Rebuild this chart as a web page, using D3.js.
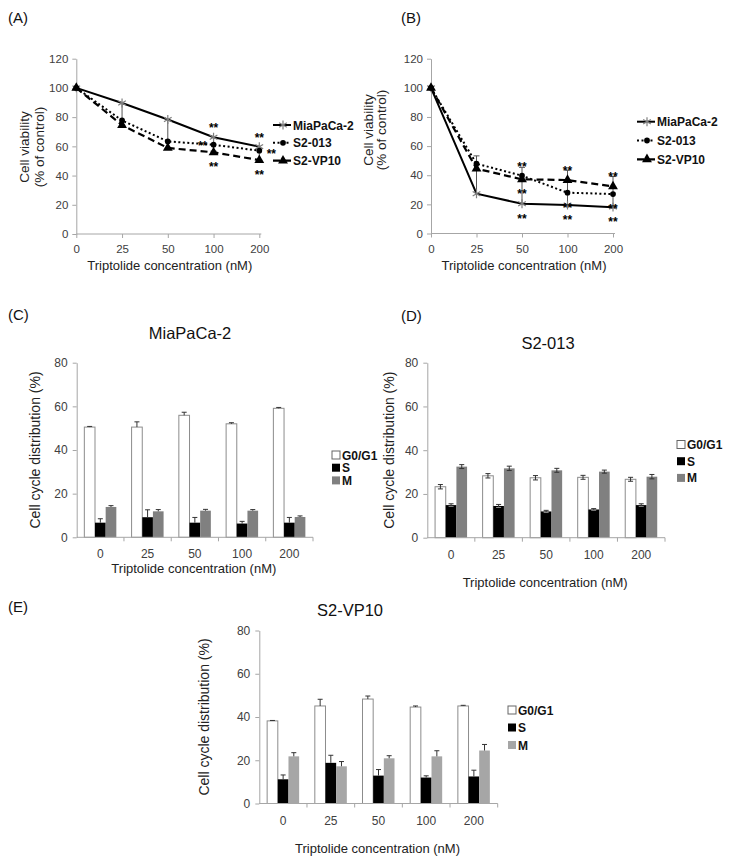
<!DOCTYPE html>
<html><head><meta charset="utf-8">
<script src="https://cdn.jsdelivr.net/npm/d3@7"></script>
<style>
body{margin:0;background:#fff}
svg{display:block}
text{font-family:"Liberation Sans",Arial,Helvetica,sans-serif}
</style>
</head><body>
<svg id="chart" width="729" height="865"></svg>
<script>
// ---------------- DATA ----------------
const concentrations = ["0", "25", "50", "100", "200"];
const lineSeries = ["MiaPaCa-2", "S2-013", "S2-VP10"];
const viabilityTicks = [0, 20, 40, 60, 80, 100, 120];

const viabilityA_MiaPaCa = [100, 89.7, 78.4, 66.2, 59.8];
const viabilityA_S2013   = [100, 77.7, 63.4, 61.1, 57.0];
const viabilityA_S2VP10  = [100, 74.5, 58.9, 55.9, 50.6];
const errorA_MiaPaCa     = [0, 15, 15, 9.5, 10];      // minus bars

const viabilityB_MiaPaCa = [100, 27.3, 20.4, 19.5, 18.1];
const viabilityB_S2013   = [100, 47.9, 39.7, 28.0, 27.1];
const viabilityB_S2VP10  = [100, 44.5, 37.2, 36.7, 32.3];
const errorB_MiaPaCa     = [0, 26, 25, 24, 21];       // plus bars

// significance marks: series index, concentration index, side
const signifA = [[0,3,"above"],[1,3,"left"],[2,3,"below"],[0,4,"above"],[1,4,"right"],[2,4,"below"]];
const signifB = [[1,2,"above"],[2,2,"below"],[0,2,"below"],
                 [2,3,"above"],[1,3,"below"],[0,3,"below"],
                 [2,4,"above"],[1,4,"below"],[0,4,"below"]];

const phases = ["G0/G1", "S", "M"];
const cycleTicks = [0, 20, 40, 60, 80];

const cycleC_G0G1 = [50.5, 50.5, 55.9, 52.0, 59.1];
const cycleC_S    = [6.7, 9.2, 6.7, 6.3, 6.7];
const cycleC_M    = [13.9, 11.9, 12.2, 12.2, 9.3];
const errC_G0G1   = [0.3, 2.4, 1.4, 0.5, 0.4];
const errC_S      = [1.8, 3.4, 2.4, 1.0, 2.4];
const errC_M      = [0.6, 0.8, 0.6, 0.5, 0.5];

const cycleD_G0G1 = [23.3, 28.3, 27.4, 27.6, 26.7];
const cycleD_S    = [14.9, 14.5, 12.0, 12.9, 14.9];
const cycleD_M    = [32.5, 31.7, 30.8, 30.2, 27.9];
const errD_G0G1   = [1.0, 1.0, 1.0, 0.9, 0.9];
const errD_S      = [0.6, 0.7, 0.5, 0.4, 0.6];
const errD_M      = [0.9, 1.0, 0.9, 0.7, 1.0];

const cycleE_G0G1 = [38.2, 45.1, 48.3, 44.6, 45.1];
const cycleE_S    = [11.2, 18.8, 12.9, 12.0, 12.5];
const cycleE_M    = [21.8, 17.2, 20.9, 21.8, 24.5];
const errE_G0G1   = [0.2, 3.1, 1.4, 0.5, 0.3];
const errE_S      = [2.0, 3.5, 2.8, 0.8, 2.9];
const errE_M      = [1.7, 2.2, 1.2, 2.6, 2.8];

// ---------------- DRAW ----------------
const svg = d3.select("#chart");
const AXIS = "#a6a6a6", TICKTXT = "#404040";

function panelLetter(t, x, y) {
  svg.append("text").attr("x", x).attr("y", y).attr("font-size", 15).attr("fill", "#111").text(t);
}

function styleAxis(g) {
  g.selectAll("path.domain").attr("stroke", AXIS).attr("stroke-width", 1);
  g.selectAll(".tick line").attr("stroke", AXIS);
  g.selectAll(".tick text").attr("fill", TICKTXT).attr("font-size", 11.5)
    .attr("font-family", "'Liberation Sans',Arial,sans-serif");
}

const seriesStyle = [
  {dash: null, width: 2, sym: d3.symbolAsterisk, symSize: 55, fill: "none", stroke: "#808080"},
  {dash: "2,2.5", width: 2, sym: d3.symbolCircle, symSize: 26, fill: "#000", stroke: "none"},
  {dash: "7,4", width: 2.2, sym: d3.symbolTriangle, symSize: 42, fill: "#000", stroke: "none"}
];

function linePanel(cfg) {
  const x = d3.scalePoint().domain(concentrations).range(cfg.xr);
  const y = d3.scaleLinear().domain([0, 120]).range(cfg.yr);
  const g = svg.append("g");
  const gx = g.append("g").attr("transform", `translate(0,${cfg.yr[0]})`)
    .call(d3.axisBottom(x).tickSize(4).tickSizeOuter(0).tickPadding(7));
  styleAxis(gx);
  gx.select("path.domain").attr("d", `M${cfg.xr[0]},0H${cfg.xr[1] + 2}`);
  const gy = g.append("g").attr("transform", `translate(${cfg.xr[0]},0)`)
    .call(d3.axisLeft(y).tickValues(viabilityTicks).tickSize(4).tickSizeOuter(0).tickPadding(4));
  styleAxis(gy);

  // error bars
  const eb = g.append("g").attr("stroke", "#555").attr("stroke-width", 1);
  concentrations.forEach((c, i) => {
    const e = cfg.err[i];
    if (!e) return;
    const v = cfg.data[0][i];
    const v2 = cfg.errDir > 0 ? v + e : v - e;
    eb.append("line").attr("x1", x(c)).attr("x2", x(c)).attr("y1", y(v)).attr("y2", y(v2));
    eb.append("line").attr("x1", x(c) - 3).attr("x2", x(c) + 3).attr("y1", y(v2)).attr("y2", y(v2));
  });

  cfg.data.forEach((vals, s) => {
    const st = seriesStyle[s];
    const pts = vals.map((v, i) => [x(concentrations[i]), y(v)]);
    g.append("path").attr("d", d3.line()(pts)).attr("fill", "none")
      .attr("stroke", "#000").attr("stroke-width", st.width)
      .attr("stroke-dasharray", st.dash);
    pts.forEach(p => {
      g.append("path").attr("d", d3.symbol(st.sym, st.symSize)())
        .attr("transform", `translate(${p[0]},${p[1]})`)
        .attr("fill", st.fill).attr("stroke", st.stroke).attr("stroke-width", 1.2);
    });
  });

  // significance
  const off = {above: [0, -12], below: [0, 12], left: [-11, -2], right: [12, 0]};
  cfg.signif.forEach(([s, i, side]) => {
    const v = cfg.data[s][i];
    const o = off[side];
    g.append("text").attr("x", x(concentrations[i]) + o[0])
      .attr("y", y(v) + o[1] + 7).attr("text-anchor", "middle")
      .attr("font-size", 12).attr("font-weight", "bold").text("**");
  });

  // axis titles
  g.append("text").attr("x", (cfg.xr[0] + cfg.xr[1]) / 2 + 2).attr("y", cfg.yr[0] + 36)
    .attr("text-anchor", "middle").attr("font-size", 13).attr("fill", "#222")
    .text("Triptolide concentration (nM)");
  const yl = g.append("text").attr("transform", `translate(${cfg.ylx},${cfg.yly}) rotate(-90)`)
    .attr("text-anchor", "middle").attr("font-size", 13.5).attr("fill", "#222");
  yl.append("tspan").attr("x", 0).attr("dy", 0).text("Cell viability");
  yl.append("tspan").attr("x", 0).attr("dy", cfg.ylStep).text("(% of control)");

  // legend
  lineSeries.forEach((name, s) => {
    const st = seriesStyle[s];
    const ly = cfg.leg[1] + s * cfg.legStep;
    const lx = cfg.leg[0];
    g.append("line").attr("x1", lx).attr("x2", lx + 18).attr("y1", ly).attr("y2", ly)
      .attr("stroke", "#000").attr("stroke-width", st.width).attr("stroke-dasharray", st.dash);
    g.append("path").attr("d", d3.symbol(st.sym, st.symSize)())
      .attr("transform", `translate(${lx + 10},${ly})`)
      .attr("fill", st.fill).attr("stroke", st.stroke).attr("stroke-width", 1.2);
    g.append("text").attr("x", lx + 20).attr("y", ly + 4.5).attr("font-size", 12)
      .attr("font-weight", "bold").attr("fill", "#111").text(name);
  });
}

const phaseFill = (grey) => ["#ffffff", "#000000", grey];

function barPanel(cfg) {
  const x = d3.scaleBand().domain(concentrations).range(cfg.xr).padding(0);
  const inner = d3.scaleBand().domain(phases)
    .range([(x.bandwidth() - 32) / 2, (x.bandwidth() + 32) / 2]).padding(0);
  const y = d3.scaleLinear().domain([0, 80]).range(cfg.yr);
  const g = svg.append("g");
  const fills = phaseFill(cfg.grey);

  const gy = g.append("g").attr("transform", `translate(${cfg.xr[0]},0)`)
    .call(d3.axisLeft(y).tickValues(cycleTicks).tickSize(4).tickSizeOuter(0).tickPadding(5));
  styleAxis(gy);
  gy.selectAll(".tick text").attr("font-size", 12);

  concentrations.forEach((c, i) => {
    phases.forEach((p, k) => {
      const v = cfg.data[k][i], e = cfg.err[k][i];
      const bx = x(c) + inner(p), bw = inner.bandwidth();
      g.append("rect").attr("x", bx).attr("y", y(v)).attr("width", bw)
        .attr("height", y(0) - y(v)).attr("fill", fills[k])
        .attr("stroke", k === 0 ? "#8c8c8c" : "none").attr("stroke-width", 1);
      const cx = bx + bw / 2;
      const lo = cfg.both ? v - e : v;
      g.append("line").attr("x1", cx).attr("x2", cx).attr("y1", y(lo)).attr("y2", y(v + e))
        .attr("stroke", "#333").attr("stroke-width", 1);
      g.append("line").attr("x1", cx - 2.5).attr("x2", cx + 2.5).attr("y1", y(v + e)).attr("y2", y(v + e))
        .attr("stroke", "#333").attr("stroke-width", 1);
      if (cfg.both) g.append("line").attr("x1", cx - 2.5).attr("x2", cx + 2.5)
        .attr("y1", y(lo)).attr("y2", y(lo)).attr("stroke", k === 1 ? "#888" : "#333").attr("stroke-width", 1);
    });
  });

  // x axis with ticks at band boundaries
  const gx = g.append("g");
  gx.append("line").attr("x1", cfg.xr[0]).attr("x2", cfg.xr[1])
    .attr("y1", cfg.yr[0]).attr("y2", cfg.yr[0]).attr("stroke", AXIS);
  concentrations.forEach((c, i) => {
    gx.append("line").attr("x1", x(c) + x.bandwidth()).attr("x2", x(c) + x.bandwidth())
      .attr("y1", cfg.yr[0]).attr("y2", cfg.yr[0] + 4).attr("stroke", AXIS);
    gx.append("text").attr("x", x(c) + x.bandwidth() / 2).attr("y", cfg.tickY)
      .attr("text-anchor", "middle").attr("font-size", 12).attr("fill", TICKTXT).text(c);
  });

  g.append("text").attr("x", (cfg.xr[0] + cfg.xr[1]) / 2 - 1).attr("y", cfg.xlabY)
    .attr("text-anchor", "middle").attr("font-size", 13).attr("fill", "#222")
    .text("Triptolide concentration (nM)");
  g.append("text").attr("transform", `translate(${cfg.ylx},${(cfg.yr[0] + cfg.yr[1]) / 2}) rotate(-90)`)
    .attr("text-anchor", "middle").attr("font-size", 14).attr("fill", "#222")
    .text("Cell cycle distribution (%)");
  g.append("text").attr("x", cfg.title[0]).attr("y", cfg.title[1]).attr("text-anchor", "middle")
    .attr("font-size", 16.5).attr("fill", "#111").text(cfg.titleText);

  phases.forEach((p, k) => {
    const ly = cfg.leg[1] + k * cfg.legStep;
    g.append("rect").attr("x", cfg.leg[0]).attr("y", ly - 4).attr("width", 8).attr("height", 8)
      .attr("fill", fills[k]).attr("stroke", k === 0 ? "#666" : "none");
    g.append("text").attr("x", cfg.leg[0] + 10).attr("y", ly + 4.5).attr("font-size", 12)
      .attr("font-weight", "bold").attr("fill", "#111").text(p);
  });
}

panelLetter("(A)", 8, 23);
panelLetter("(B)", 401, 23);
panelLetter("(C)", 8, 320);
panelLetter("(D)", 401, 321);
panelLetter("(E)", 8, 612);

linePanel({
  xr: [76.3, 259.3], yr: [234, 58.7],
  data: [viabilityA_MiaPaCa, viabilityA_S2013, viabilityA_S2VP10],
  err: errorA_MiaPaCa, errDir: -1, signif: signifA,
  ylx: 29, yly: 147, ylStep: 15, leg: [273, 125], legStep: 17.8
});
linePanel({
  xr: [431, 613], yr: [233.5, 58.7],
  data: [viabilityB_MiaPaCa, viabilityB_S2013, viabilityB_S2VP10],
  err: errorB_MiaPaCa, errDir: 1, signif: signifB,
  ylx: 373, yly: 130, ylStep: 13, leg: [637, 121.7], legStep: 18.8
});

barPanel({
  xr: [76.7, 313], yr: [537.3, 362.7], grey: "#808080",
  data: [cycleC_G0G1, cycleC_S, cycleC_M], err: [errC_G0G1, errC_S, errC_M], both: false,
  tickY: 558, xlabY: 573, ylx: 40, title: [190, 339], titleText: "MiaPaCa-2",
  leg: [332, 455], legStep: 12.7
});
barPanel({
  xr: [427.3, 665], yr: [537.7, 362.7], grey: "#808080",
  data: [cycleD_G0G1, cycleD_S, cycleD_M], err: [errD_G0G1, errD_S, errD_M], both: true,
  tickY: 558.5, xlabY: 586.5, ylx: 394, title: [548, 349], titleText: "S2-013",
  leg: [677, 444.5], legStep: 16.7
});
barPanel({
  xr: [259.3, 497.7], yr: [803.5, 630.5], grey: "#a6a6a6",
  data: [cycleE_G0G1, cycleE_S, cycleE_M], err: [errE_G0G1, errE_S, errE_M], both: false,
  tickY: 825, xlabY: 853, ylx: 209, title: [350, 616], titleText: "S2-VP10",
  leg: [508, 710], legStep: 17.5
});
</script>
</body></html>
